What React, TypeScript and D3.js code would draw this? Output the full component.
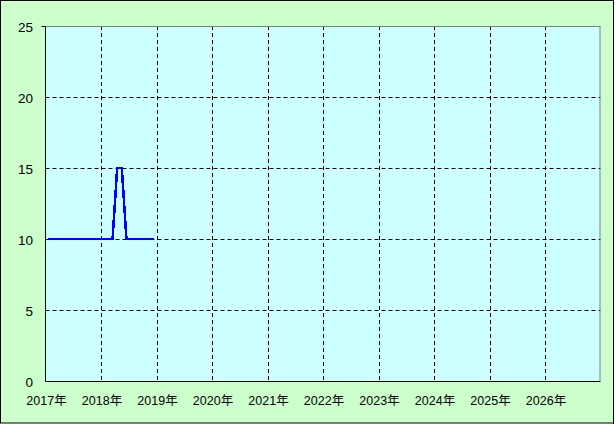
import React from "react";
import * as d3 from "d3";

const months = [
  "2017-01","2017-02","2017-03","2017-04","2017-05","2017-06","2017-07","2017-08","2017-09","2017-10","2017-11","2017-12",
  "2018-01","2018-02","2018-03","2018-04","2018-05","2018-06","2018-07","2018-08","2018-09","2018-10","2018-11","2018-12",
];
const values = [10,10,10,10,10,10,10,10,10,10,10,10,10,10,10,15,15,10,10,10,10,10,10,10];
const yearTicks = [2017,2018,2019,2020,2021,2022,2023,2024,2025,2026];
const yTicks = [0,5,10,15,20,25];

export default function App() {
  const W = 615, H = 424;
  const L = 45.5, R = 600.5, T = 26, B = 381;
  const x = d3.scaleLinear().domain([2017, 2027]).range([L, R]);
  const y = d3.scaleLinear().domain([0, 25]).range([B, T]);
  const pts = months.map((m, i) => {
    const [yy, mm] = m.split("-").map(Number);
    return [yy + (mm - 1 + 0.5) / 12, values[i]] as [number, number];
  });
  const line = d3.line<[number, number]>().x(d => x(d[0])).y(d => y(d[1]));
  return (
    <div style={{ position: "absolute", left: 0, top: 0 }}>
      <svg width={W} height={H} style={{ display: "block" }}>
        <rect x={0.5} y={0.5} width={613} height={422.5} fill="#ccffcc" stroke="#000" strokeWidth={1} />
        <line x1={613.5} y1={0} x2={613.5} y2={424} stroke="#000" strokeWidth={1} />
        <rect x={L} y={T} width={R - L} height={B - T} fill="#ccffff" />
        {yTicks.slice(1, -1).map(t => (
          <line key={"h" + t} x1={L} x2={R} y1={Math.round(y(t)) + 0.5} y2={Math.round(y(t)) + 0.5}
            stroke="#000" strokeDasharray="4,3" strokeWidth={1} />
        ))}
        {yearTicks.slice(1).map(t => (
          <line key={"v" + t} x1={Math.round(x(t)) + 0.5} x2={Math.round(x(t)) + 0.5} y1={T} y2={B}
            stroke="#000" strokeDasharray="4,3" strokeWidth={1} />
        ))}
        <line x1={L} x2={R} y1={T + 0.5} y2={T + 0.5} stroke="#808080" />
        <line x1={R - 0.5} x2={R - 0.5} y1={T} y2={B} stroke="#808080" />
        <line x1={L} x2={L} y1={T} y2={B + 0.5} stroke="#000" />
        <line x1={L} x2={R} y1={B + 0.5} y2={B + 0.5} stroke="#000" />
        <line x1={L - 4} x2={L} y1={T + 0.5} y2={T + 0.5} stroke="#000" />
        <path d={line(pts) || ""} fill="none" stroke="#0000ff" strokeWidth={2.5} shapeRendering="crispEdges" />
        {yTicks.map(t => (
          <text key={"yl" + t} x={33} y={y(t) + 5.5} textAnchor="end"
            fontFamily="'Liberation Sans', Arial, sans-serif" fontSize={13.5} fill="#000">{t}</text>
        ))}
        {yearTicks.map(t => (
          <text key={"xl" + t} x={x(t) + 1} y={405} textAnchor="middle"
            fontFamily="'Liberation Sans', 'Noto Sans CJK JP', sans-serif" fontSize={12.5} fill="#000">{t}年</text>
        ))}
      </svg>
    </div>
  );
}
